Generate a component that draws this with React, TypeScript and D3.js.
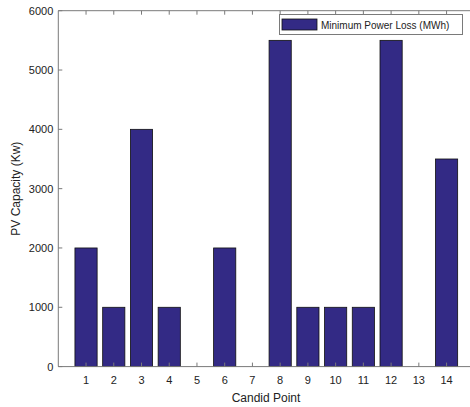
import React from "react";
import * as d3 from "d3";

const categories = [1, 2, 3, 4, 5, 6, 7, 8, 9, 10, 11, 12, 13, 14];
const values = [2000, 1000, 4000, 1000, 0, 2000, 0, 5500, 1000, 1000, 1000, 5500, 0, 3500];
const yTicks = [0, 1000, 2000, 3000, 4000, 5000, 6000];
const seriesName = "Minimum Power Loss (MWh)";

export default function App() {
  const W = 470, H = 407;
  const x = d3.scaleLinear().domain([0, 15]).range([58.3, 474.3]);
  const y = d3.scaleLinear().domain([0, 6000]).range([366.6, 10.7]);
  const barW = x(0.8) - x(0);
  const axisColor = "#7a7a7a";
  const font = "Liberation Sans, Arial, sans-serif";
  const tl = 4;
  return (
    <svg width={W} height={H} style={{ position: "absolute", left: 0, top: 0, background: "#fff" }}>
      <rect x={0} y={0} width={W} height={H} fill="#fff" />
      {categories.map((c, i) =>
        values[i] > 0 ? (
          <rect key={c} x={x(c) - barW / 2} y={y(values[i])} width={barW} height={y(0) - y(values[i])}
            fill="#332a85" stroke="#111" strokeWidth={0.8} />
        ) : null
      )}
      <line x1={x(0)} x2={x(15)} y1={y(6000)} y2={y(6000)} stroke={axisColor} strokeWidth={1} />
      <line x1={x(0)} x2={x(15)} y1={y(0)} y2={y(0)} stroke={axisColor} strokeWidth={1} />
      <line x1={x(0)} x2={x(0)} y1={y(0)} y2={y(6000)} stroke={axisColor} strokeWidth={1} />
      {categories.map((c) => (
        <g key={"t" + c}>
          <line x1={x(c)} x2={x(c)} y1={y(0)} y2={y(0) - tl} stroke={axisColor} />
          <line x1={x(c)} x2={x(c)} y1={y(6000)} y2={y(6000) + tl} stroke={axisColor} />
          <text x={x(c)} y={y(0) + 17} textAnchor="middle" fontFamily={font} fontSize={11} fill="#222">{c}</text>
        </g>
      ))}
      {yTicks.map((t) => (
        <g key={"y" + t}>
          <line x1={x(0)} x2={x(0) + tl} y1={y(t)} y2={y(t)} stroke={axisColor} />
          <text x={x(0) - 5} y={y(t) + 4} textAnchor="end" fontFamily={font} fontSize={11} fill="#222">{t}</text>
        </g>
      ))}
      <text x={266} y={402} textAnchor="middle" fontFamily={font} fontSize={12} fill="#222">Candid Point</text>
      <text transform={`translate(20, ${y(3000)}) rotate(-90)`} textAnchor="middle" fontFamily={font} fontSize={12} fill="#222">PV Capacity (Kw)</text>
      <rect x={279.5} y={14.5} width={183} height={20} fill="#fff" stroke={axisColor} strokeWidth={1} />
      <rect x={282} y={19} width={35} height={11} fill="#332a85" stroke="#111" strokeWidth={0.8} />
      <text x={321} y={28.5} fontFamily={font} fontSize={10} fill="#222">{seriesName}</text>
    </svg>
  );
}
